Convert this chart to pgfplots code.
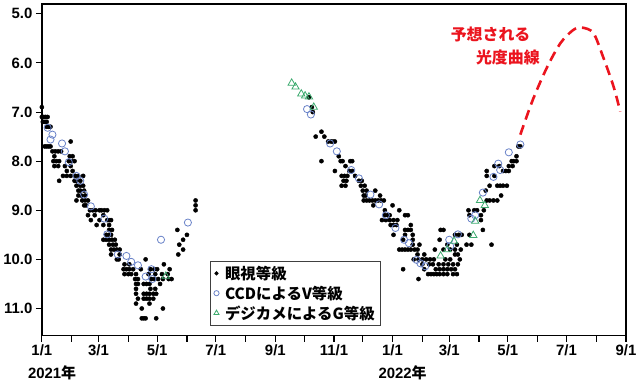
\documentclass[border=0pt]{standalone}
\usepackage{pgfplots}
\pgfplotsset{compat=1.18}
\usepackage{pgfplotstable}
\usepackage{fontspec}
\setmainfont{Liberation Sans}
\newfontfamily\jp{Noto Sans CJK JP}
\definecolor{ccdblue}{RGB}{105,130,200}
\definecolor{dcgreen}{RGB}{60,170,110}
\definecolor{predred}{RGB}{235,20,30}

\pgfplotstableread{
day mag
0 6.9
0 7.1
2 7.1
4 7.1
6 7.1
1 7.2
3 7.2
5 7.2
5 7.3
7 7.3
9 7.3
3 7.7
5 7.7
7 7.7
9 7.7
30 7.6
11 7.8
14 7.8
17 7.8
20 7.8
13 7.9
29 7.9
32 7.9
12 8.0
15 8.0
18 8.0
28 8.0
31 8.0
34 8.0
13 8.1
17 8.1
24 8.1
30 8.1
26 8.2
32 8.2
22 8.3
26 8.3
30 8.3
35 8.3
38 8.3
43 8.3
18 8.4
34 8.4
36 8.4
40 8.4
36 8.5
40 8.5
43 8.5
38 8.6
40 8.6
44 8.6
38 8.7
41 8.7
45 8.7
36 8.8
42 8.8
45 8.8
48 8.8
44 8.9
46 8.9
50 9.0
53 9.0
56 9.0
60 9.0
62 9.0
65 9.0
68 9.0
48 9.1
55 9.1
64 9.1
51 9.2
60 9.2
68 9.2
70 9.2
72 9.2
57 9.3
64 9.3
70 9.3
70 9.4
73 9.4
67 9.5
70 9.5
72 9.5
64 9.6
67 9.6
70 9.6
73 9.6
76 9.6
70 9.7
74 9.7
77 9.7
72 9.8
75 9.8
78 9.8
81 9.8
72 9.9
81 9.9
78 10.0
80 10.0
108 10.0
86 10.1
91 10.1
127 10.1
85 10.2
88 10.2
91 10.2
95 10.2
103 10.2
113 10.2
117 10.2
120 10.2
133 10.2
86 10.3
90 10.3
93 10.3
98 10.3
111 10.3
118 10.3
125 10.3
131 10.3
97 10.4
100 10.4
114 10.4
117 10.4
121 10.4
126 10.4
132 10.4
135 10.4
98 10.5
100 10.5
106 10.5
109 10.5
112 10.5
123 10.5
98 10.6
113 10.6
118 10.6
98 10.7
106 10.7
109 10.7
112 10.7
116 10.7
119 10.7
100 10.8
106 10.8
109 10.8
112 10.8
116 10.8
98 10.9
112 10.9
104 11.0
126 11.0
104 11.2
106 11.2
108 11.2
119 11.2
141 9.4
143 9.7
142 9.9
147 9.6
147 9.8
151 9.5
160 8.8
160 8.9
160 9.0
278 6.7
281 6.9
282 7.0
291 7.4
285 7.5
294 7.5
298 7.6
301 7.6
303 7.6
305 7.6
291 8.0
309 7.9
311 8.0
313 8.0
321 8.0
323 8.0
316 8.1
305 8.2
320 8.2
323 8.2
312 8.3
315 8.3
318 8.3
326 8.3
314 8.4
317 8.4
330 8.4
333 8.4
312 8.5
316 8.5
332 8.5
336 8.5
334 8.6
338 8.6
347 8.6
335 8.7
337 8.7
352 8.7
335 8.8
338 8.8
341 8.8
344 8.8
347 8.8
350 8.8
353 8.8
356 8.8
345 8.9
365 8.9
357 9.0
372 9.0
357 9.1
360 9.1
362 9.1
378 9.1
381 9.1
354 9.2
358 9.2
362 9.2
366 9.2
370 9.2
363 9.3
366 9.3
369 9.3
384 9.3
378 9.4
381 9.4
384 9.4
415 9.4
418 9.4
366 9.5
378 9.5
386 9.5
430 9.5
434 9.5
437 9.5
445 9.5
376 9.6
386 9.6
414 9.6
386 9.7
393 9.7
422 9.7
432 9.7
442 9.7
447 9.7
468 9.7
372 9.8
375 9.8
378 9.8
381 9.8
384 9.8
388 9.8
391 9.8
409 9.8
418 9.8
425 9.8
430 9.8
436 9.8
391 9.9
398 9.9
430 9.9
433 9.9
387 10.0
392 10.0
396 10.0
400 10.0
404 10.0
408 10.0
420 10.0
425 10.0
435 10.0
396 10.1
403 10.1
407 10.1
413 10.1
418 10.1
423 10.1
428 10.1
433 10.1
376 10.2
398 10.2
410 10.2
414 10.2
418 10.2
422 10.2
426 10.2
430 10.2
402 10.3
405 10.3
408 10.3
411 10.3
414 10.3
418 10.3
422 10.3
428 10.3
432 10.3
392 10.4
444 9.0
450 9.0
453 9.0
445 9.1
457 9.1
457 9.2
459 9.4
460 9.0
463 8.8
466 8.8
470 8.8
474 8.8
462 8.6
478 8.7
463 8.2
463 8.3
471 8.3
466 8.5
474 8.5
477 8.5
480 8.5
484 8.5
476 8.1
471 8.1
480 8.2
483 8.2
486 8.2
486 8.1
490 8.1
489 8.0
491 8.0
494 8.0
494 7.9
496 7.7
498 7.7
}\visual

\pgfplotstableread{
day mag
6 7.32
11 7.46
9 7.56
21 7.64
24 7.8
28 8.02
36 8.3
40 8.4
44 8.68
51 8.92
65 9.17
68 9.49
79 9.9
88 9.93
93 10.05
100 10.12
108 10.35
114 10.2
115 10.4
124 9.6
152 9.25
276 6.94
280 7.05
300 7.64
307 7.8
322 8.18
330 8.35
342 8.68
351 8.88
358 9.1
368 9.36
377 9.6
382 9.67
390 10.01
394 10.08
399 10.14
424 9.6
425 9.73
433 9.49
447 9.17
451 9.1
459 8.64
470 8.32
475 8.05
477 8.18
486 7.82
498 7.66
}\ccd

\pgfplotstableread{
day mag
129 10.34
260 6.41
264 6.49
270 6.63
274 6.67
278 6.69
283 6.9
415 9.93
422 9.8
429 9.63
449 9.51
451 9.22
456 8.8
461 8.9
}\dcam

\pgfplotstableread{
day mag
498 7.46
511 6.75
526 6.08
540 5.59
553 5.33
562 5.28
574 5.39
584 5.87
595 6.48
602 6.99
}\pred

\begin{document}
\begin{tikzpicture}
\begin{axis}[
  name=ax,
  scale only axis,
  width=585bp, height=332bp,
  xmin=0, xmax=608,
  ymin=4.8, ymax=11.55,
  y dir=reverse,
  clip=false,
  axis line style={line width=1.6bp},
  xtick={0,59,120,181,243,304,365,424,485,546,608},
  xticklabels={1/1,3/1,5/1,7/1,9/1,11/1,1/1,3/1,5/1,7/1,9/1},
  minor xtick={31,90,151,212,273,334,396,455,516,577},
  ytick={5,6,7,8,9,10,11},
  yticklabel style={/pgf/number format/.cd, fixed, fixed zerofill, precision=1},
  /pgf/number format/assume math mode=true,
  ticklabel style={font=\bfseries\fontsize{15}{15}\selectfont},
  tick align=outside,
  xtick pos=bottom, ytick pos=left,
  major tick length=6bp, minor tick length=6bp,
  every tick/.style={black, line width=1.2bp},
  every y tick/.style={black, line width=1bp},
  legend style={at={(0.287,0.226)}, anchor=north west, draw=black!75,
    font=\jp\bfseries\fontsize{15.5}{17}\selectfont, row sep=1pt, column sep=4bp,
    inner xsep=4pt, inner ysep=3pt, line width=0.8bp},
  legend cell align=left,
]
\addplot[only marks, mark=*, mark size=2.1bp, black, legend image post style={mark size=1.6bp}] table[x=day,y=mag]{\visual};
\addlegendentry{眼視等級}
\addplot[only marks, mark=o, mark size=3.6bp, ccdblue, line width=0.8bp, legend image post style={mark size=2.6bp}] table[x=day,y=mag]{\ccd};
\addlegendentry{CCDによるV等級}
\addplot[only marks, mark=triangle, mark size=4.2bp, dcgreen, line width=0.8bp, legend image post style={mark size=3bp}] table[x=day,y=mag]{\dcam};
\addlegendentry{デジカメによるG等級}
\addplot[forget plot, smooth, predred, line width=2.6bp, dash pattern=on 10bp off 6bp] table[x=day,y=mag]{\pred};
\node[predred, font=\jp\bfseries\fontsize{16}{16}\selectfont] at (axis cs:467,5.43) {予想される};
\node[predred, font=\jp\bfseries\fontsize{16}{16}\selectfont] at (axis cs:485,5.89) {光度曲線};
\node[anchor=west, inner sep=0pt, font=\bfseries\fontsize{15}{15}\selectfont] at (axis description cs:-0.024,-0.111) {2021{\jp 年}};
\node[anchor=west, inner sep=0pt, font=\bfseries\fontsize{15}{15}\selectfont] at (axis description cs:0.576,-0.111) {2022{\jp 年}};
\end{axis}
\path ([shift={(-41bp,-47bp)}]ax.south west) rectangle ([shift={(14bp,4bp)}]ax.north east);
\end{tikzpicture}
\end{document}
